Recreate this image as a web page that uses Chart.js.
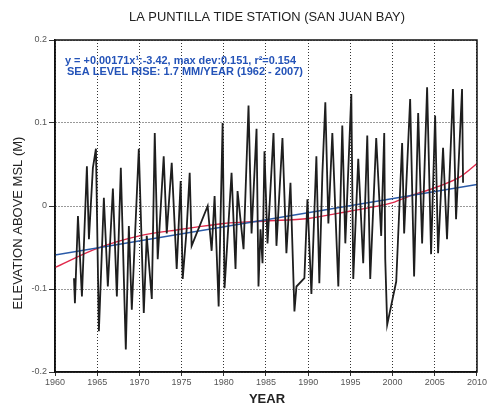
<!DOCTYPE html>
<html>
<head>
<meta charset="utf-8">
<script src="https://cdn.jsdelivr.net/npm/chart.js@4.4.1/dist/chart.umd.min.js"></script>
<style>
  html, body { margin: 0; padding: 0; background: #fff; }
  #wrap { width: 488px; height: 406px; }
</style>
</head>
<body>
<div id="wrap"><canvas id="chart1" width="488" height="406"></canvas></div>
<script>
// monthly sea level, peaks and troughs
var years = [1962.25, 1962.36, 1962.72, 1963.19, 1963.78, 1964.02, 1964.49, 1964.85, 1965.20, 1965.79,
    1966.26, 1966.86, 1967.33, 1967.80, 1968.39, 1968.75, 1969.10, 1969.93, 1970.52, 1970.87,
    1971.47, 1971.82, 1972.17, 1972.88, 1973.24, 1973.83, 1974.42, 1974.89, 1975.13, 1975.60,
    1975.96, 1976.19, 1978.09, 1978.56, 1978.91, 1979.39, 1979.86, 1980.09, 1980.92, 1981.39,
    1981.63, 1982.34, 1982.93, 1983.29, 1983.88, 1984.11, 1984.35, 1984.59, 1984.82, 1985.18,
    1985.89, 1986.24, 1986.95, 1987.42, 1987.90, 1988.37, 1988.61, 1989.55, 1989.91, 1990.38,
    1990.97, 1991.32, 1991.68, 1992.03, 1992.39, 1992.86, 1993.57, 1994.04, 1994.40, 1995.11,
    1995.34, 1995.93, 1996.52, 1997.00, 1997.35, 1998.06, 1998.65, 1999.01, 1999.13, 1999.36,
    2000.43, 2001.13, 2001.37, 2002.08, 2002.55, 2003.03, 2003.50, 2004.09, 2004.56, 2005.04,
    2005.39, 2005.98, 2006.45, 2007.16, 2007.52, 2008.23, 2008.35];
var levels = [-0.087, -0.117, -0.012, -0.109, 0.048, -0.040, 0.046, 0.069, -0.151, 0.010,
    -0.097, 0.021, -0.109, 0.046, -0.173, -0.024, -0.125, 0.069, -0.129, -0.036,
    -0.112, 0.088, -0.064, 0.060, -0.033, 0.052, -0.076, 0.030, -0.088, -0.028,
    0.040, -0.048, 0.000, -0.054, 0.012, -0.121, 0.100, -0.099, 0.040, -0.076,
    0.018, -0.052, 0.121, -0.033, 0.093, -0.097, -0.028, -0.069, 0.066, -0.045,
    0.088, -0.048, 0.082, -0.057, 0.028, -0.127, -0.097, -0.087, 0.008, -0.106,
    0.060, -0.093, 0.039, 0.125, -0.021, 0.088, -0.097, 0.097, -0.045, 0.135,
    -0.088, 0.057, -0.069, 0.085, -0.088, 0.082, -0.036, 0.088, -0.064, -0.143,
    -0.091, 0.076, -0.033, 0.129, -0.085, 0.112, -0.045, 0.143, -0.058, 0.109,
    -0.057, 0.070, -0.040, 0.141, -0.016, 0.141, 0.028];

// linear fit (blue)
var fitYears = [1960, 2010];
var fitLevels = [-0.059, 0.026];

// smooth fit (red)
var curveYears = [1960, 1965, 1970, 1975, 1980, 1985, 1990, 1995, 2000, 2002, 2005, 2008, 2010];
var curveLevels = [-0.074, -0.051, -0.036, -0.028, -0.021, -0.018, -0.015, -0.006, 0.004, 0.012, 0.022, 0.035, 0.051];

var yearTicks = [1960, 1965, 1970, 1975, 1980, 1985, 1990, 1995, 2000, 2005, 2010];
var levelTicks = [-0.2, -0.1, 0, 0.1, 0.2];

function pts(xs, ys) {
    return xs.map(function (x, i) { return {x: x, y: ys[i]}; });
}

var textPlugin = {
    id: 'texts',
    afterDraw: function (chart) {
        var ctx = chart.ctx, a = chart.chartArea;
        ctx.save();
        // frame
        ctx.strokeStyle = '#111';
        ctx.lineWidth = 1.5;
        ctx.strokeRect(a.left, a.top, a.right - a.left, a.bottom - a.top);

        ctx.fillStyle = '#222';
        ctx.textAlign = 'center';
        ctx.textBaseline = 'middle';
        ctx.font = '13px "Liberation Sans", Arial, sans-serif';
        ctx.fillText('LA PUNTILLA TIDE STATION (SAN JUAN BAY)', 267, 17, 276);

        ctx.font = 'bold 13px "Liberation Sans", Arial, sans-serif';
        ctx.fillText('YEAR', 267, 399);

        ctx.save();
        ctx.translate(18, 223);
        ctx.rotate(-Math.PI / 2);
        ctx.font = '13px "Liberation Sans", Arial, sans-serif';
        ctx.fillText('ELEVATION ABOVE MSL (M)', 0, 0, 194);
        ctx.restore();

        ctx.fillStyle = '#2453b8';
        ctx.textAlign = 'left';
        ctx.font = 'bold 11px "Liberation Sans", Arial, sans-serif';
        ctx.fillText('y = +0.00171x\u00b9:-3.42, max dev:0.151, r\u00b2=0.154', 65, 61, 231);
        ctx.fillText('SEA LEVEL RISE: 1.7 MM/YEAR (1962 - 2007)', 67, 72, 238);
        ctx.restore();
    }
};

const chart1 = new Chart(document.getElementById('chart1'), {
    type: 'line',
    data: {
        datasets: [
            {
                label: 'sea level', data: pts(years, levels),
                borderColor: '#1e1e1e', borderWidth: 1.8, pointRadius: 0, tension: 0
            },
            {
                label: 'linear', data: pts(fitYears, fitLevels),
                borderColor: '#2a5aa8', borderWidth: 1.6, pointRadius: 0, tension: 0
            },
            {
                label: 'curve', data: pts(curveYears, curveLevels),
                borderColor: '#e0284a', borderWidth: 1.4, pointRadius: 0,
                cubicInterpolationMode: 'monotone'
            }
        ]
    },
    options: {
        responsive: false,
        animation: false,
        layout: {padding: {top: 40, right: 10, left: 0, bottom: 0}},
        plugins: {legend: {display: false}, tooltip: {enabled: false}},
        scales: {
            x: {
                type: 'linear', min: 1960, max: 2010,
                afterFit: function (s) { s.height = 34; },
                afterBuildTicks: function (s) { s.ticks = yearTicks.map(function (v) { return {value: v}; }); },
                ticks: {
                    color: '#555', padding: 1, maxRotation: 0,
                    font: {family: '"Liberation Sans Narrow", "Liberation Sans", sans-serif', size: 9},
                    callback: function (v) { return String(v); }
                },
                grid: {color: '#333', lineWidth: 1, tickLength: 4},
                border: {color: '#111', width: 1.5, dash: [1, 2]}
            },
            y: {
                type: 'linear', min: -0.2, max: 0.2,
                afterFit: function (s) { s.width = 55; },
                afterBuildTicks: function (s) { s.ticks = levelTicks.map(function (v) { return {value: v}; }); },
                ticks: {
                    color: '#555', padding: 2,
                    font: {family: '"Liberation Sans Narrow", "Liberation Sans", sans-serif', size: 9},
                    callback: function (v) { return v === 0 ? '0' : v.toFixed(1); }
                },
                grid: {color: '#333', lineWidth: 1, tickLength: 6},
                border: {color: '#111', width: 1.5, dash: [1, 2]}
            }
        }
    },
    plugins: [textPlugin]
});
</script>
</body>
</html>
